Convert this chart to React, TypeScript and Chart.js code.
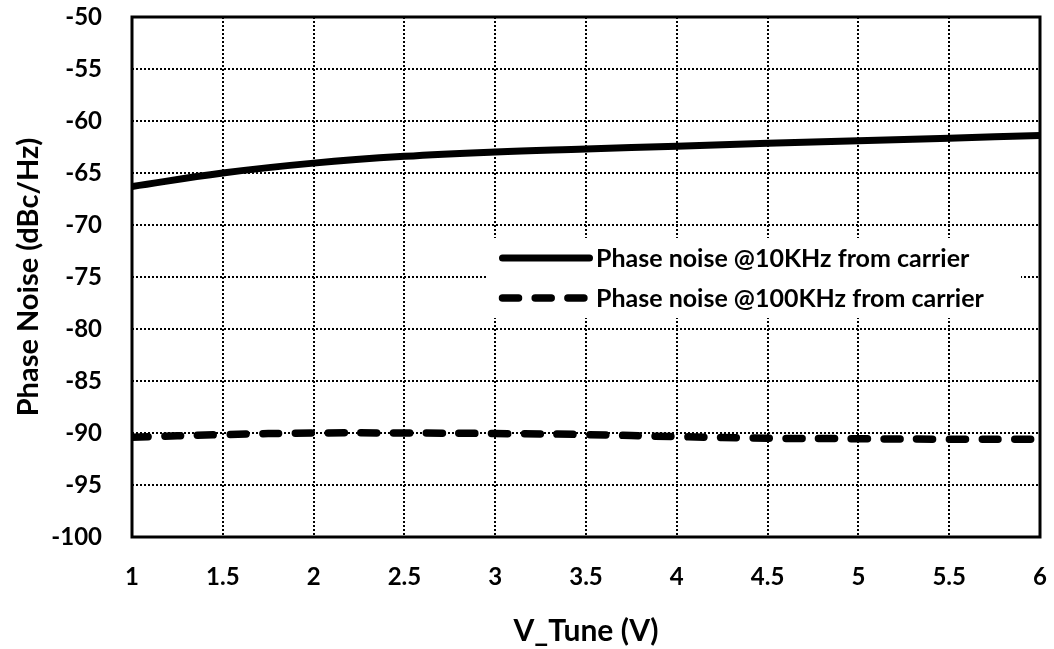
import { useEffect, useRef } from "react";
import { Chart, registerables } from "chart.js";

Chart.register(...registerables);

const vTune = [1, 1.5, 2, 2.5, 3, 3.5, 4, 4.5, 5, 5.5, 6];
const pn10k = [-66.3, -65.0, -64.05, -63.4, -62.98, -62.7, -62.42, -62.15, -61.9, -61.65, -61.4];
const pn100k = [-90.4, -90.15, -90.0, -90.0, -90.05, -90.15, -90.35, -90.5, -90.55, -90.6, -90.6];
const seriesLabels = ["Phase noise @10KHz from carrier", "Phase noise @100KHz from carrier"];
const xTicks = [1, 1.5, 2, 2.5, 3, 3.5, 4, 4.5, 5, 5.5, 6];
const yTicks = [-100, -95, -90, -85, -80, -75, -70, -65, -60, -55, -50];
const xTitle = "V_Tune (V)";
const yTitle = "Phase Noise (dBc/Hz)";

const FONT = "Lato, 'Open Sans', sans-serif";

const frameAndLegend = {
  id: "frameAndLegend",
  afterDraw(chart: any) {
    const { ctx, chartArea: a } = chart;
    ctx.save();
    // legend box inside plot
    const bx = a.left + 355;
    const by = a.top + 221;
    const bw = 534;
    const bh = 80;
    ctx.fillStyle = "#fff";
    ctx.fillRect(bx, by, bw, bh);
    chart.data.datasets.forEach((ds: any, i: number) => {
      const y = by + 20 + i * 40;
      ctx.beginPath();
      ctx.strokeStyle = ds.borderColor;
      ctx.lineWidth = ds.borderWidth;
      ctx.lineCap = "round";
      ctx.setLineDash(ds.borderDash || []);
      ctx.moveTo(bx + 15.5, y);
      ctx.lineTo(bx + 102.5, y);
      ctx.stroke();
      ctx.setLineDash([]);
      ctx.fillStyle = "#000";
      ctx.font = `bold 25px ${FONT}`;
      ctx.textAlign = "left";
      ctx.textBaseline = "middle";
      ctx.fillText(ds.label, bx + 109, y + 1);
    });
    // plot frame
    ctx.strokeStyle = "#000";
    ctx.lineWidth = 3;
    ctx.setLineDash([]);
    ctx.strokeRect(a.left, a.top, a.right - a.left, a.bottom - a.top);
    ctx.restore();
  },
};

export default function App() {
  const ref = useRef<HTMLCanvasElement>(null);
  useEffect(() => {
    document.body.style.margin = "0";
    const chart = new Chart(ref.current!, {
      type: "line",
      data: {
        datasets: [
          {
            label: seriesLabels[0],
            data: vTune.map((x, i) => ({ x, y: pn10k[i] })),
            borderColor: "#000",
            borderWidth: 7,
            pointRadius: 0,
            tension: 0.4,
            borderCapStyle: "butt",
          },
          {
            label: seriesLabels[1],
            data: vTune.map((x, i) => ({ x, y: pn100k[i] })),
            borderColor: "#000",
            borderWidth: 7.5,
            borderDash: [16, 16.7],
            borderCapStyle: "round",
            pointRadius: 0,
            tension: 0.4,
          },
        ],
      },
      options: {
        animation: false,
        responsive: false,
        layout: { autoPadding: false, padding: { left: 0, top: 17, right: 14, bottom: 0 } },
        plugins: { legend: { display: false }, tooltip: { enabled: false } },
        scales: {
          x: {
            type: "linear",
            min: 1,
            max: 6,
            afterBuildTicks: (s: any) => {
              s.ticks = xTicks.map((v) => ({ value: v }));
            },
            afterFit: (s: any) => {
              s.height = 112;
              s.paddingLeft = 0;
              s.paddingRight = 0;
              s.paddingTop = 0;
              s.paddingBottom = 0;
            },
            grid: {
              color: "#000",
              lineWidth: 2,
              drawTicks: false,
            },
            border: { display: false, dash: [2, 2] },
            ticks: {
              color: "#000",
              padding: 26,
              font: { family: FONT, size: 24, weight: "bold" },
              maxRotation: 0,
              callback: (v: any) => String(v),
            },
            title: {
              display: true,
              text: xTitle,
              color: "#000",
              font: { family: FONT, size: 30, weight: "bold" },
              padding: { top: 3, bottom: 0 },
            },
          },
          y: {
            min: -100,
            max: -50,
            afterBuildTicks: (s: any) => {
              s.ticks = yTicks.map((v) => ({ value: v }));
            },
            afterFit: (s: any) => {
              s.width = 132;
              s.paddingLeft = 0;
              s.paddingRight = 0;
              s.paddingTop = 0;
              s.paddingBottom = 0;
            },
            grid: {
              color: "#000",
              lineWidth: 2,
              drawTicks: false,
            },
            border: { display: false, dash: [2, 2] },
            ticks: {
              color: "#000",
              padding: 30,
              font: { family: FONT, size: 24, weight: "bold" },
              callback: (v: any) => String(v),
            },
            title: {
              display: true,
              text: yTitle,
              color: "#000",
              font: { family: FONT, size: 29, weight: "bold" },
              padding: { top: 11, bottom: 0 },
            },
          },
        },
      },
      plugins: [frameAndLegend],
    } as any);
    return () => chart.destroy();
  }, []);
  return (
    <div style={{ position: "absolute", left: 0, top: 0, width: 1054, height: 649, background: "#fff" }}>
      <canvas ref={ref} width={1054} height={649} style={{ display: "block" }} />
    </div>
  );
}
